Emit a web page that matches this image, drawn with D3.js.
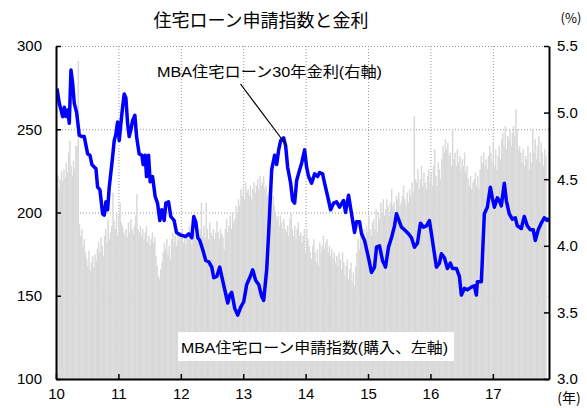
<!DOCTYPE html>
<html><head><meta charset="utf-8">
<script src="https://cdn.jsdelivr.net/npm/d3@7"></script>
<style>
html,body{margin:0;padding:0;background:#fff;}
svg{display:block;font-family:"Liberation Sans","Noto Sans CJK JP",sans-serif;}
</style></head>
<body>
<svg id="chart" width="587" height="408"></svg>
<script>
// ---- DATA ----
const title = "住宅ローン申請指数と金利";
const rateLabel = "MBA住宅ローン30年金利(右軸)";
const indexLabel = "MBA住宅ローン申請指数(購入、左軸)";
const yearTicks = [2010, 2011, 2012, 2013, 2014, 2015, 2016, 2017];
const leftTicks = [100, 150, 200, 250, 300];
const rightTicks = [3.0, 3.5, 4.0, 4.5, 5.0, 5.5];
const indexStart = 2010.0; // weekly series start
// MBA purchase index, weekly (left axis)
const index2010 = [216,222,214,220,225,219,226,221,230,224,236,243,228,222,231,226,240,240,291,193,186,190,180,184,176,172,168,177,165,170,174,167,175,171,178,182,176,185,180,174,186,190,182,196,184,188,192,212,195,190,200,186];
const index2011 = [198,206,194,192,188,186,190,185,194,188,196,190,187,192,198,211,190,188,192,186,190,184,188,192,182,186,180,184,188,182,185,174,168,162,160,166,170,176,182,178,184,175,180,172,184,188,182,186,180,187,183,188];
const index2012 = [184,190,182,186,181,188,184,192,186,181,195,188,184,190,182,186,190,206,186,192,185,206,190,184,194,188,186,190,184,188,195,188,184,190,187,185,178,190,196,188,192,198,190,200,194,196,204,200,208,204,214,210];
const index2013 = [216,208,218,212,214,210,216,208,214,218,212,216,220,214,222,216,218,222,214,216,210,212,206,208,202,210,204,200,196,198,192,198,194,190,196,190,188,192,186,196,200,190,186,192,184,190,194,186,188,182,186,190];
const index2014 = [176,190,184,180,176,172,180,184,176,170,178,168,182,176,180,186,178,182,184,176,180,174,178,172,176,170,174,168,176,172,166,176,170,162,168,172,160,166,170,158,164,156,168,176,184,178,186,182,188,190,184,192];
const index2015 = [188,198,190,186,194,196,190,202,188,200,196,206,200,208,198,202,208,204,198,206,214,204,206,200,210,208,212,204,206,210,216,208,204,212,206,214,210,218,212,258,220,218,226,214,220,228,216,224,218,214,222,226];
const index2016 = [218,224,216,228,238,222,216,230,226,220,232,240,236,244,238,242,234,236,228,250,232,236,228,238,230,234,226,232,228,236,224,228,220,216,222,214,218,220,224,216,222,214,226,234,230,236,228,232,226,234,240,236];
const index2017 = [230,242,228,238,226,234,240,232,244,248,240,252,238,246,244,250,240,248,252,246,262,250,238,240,236,230,238,228,234,232,240,226,236,230,250,236,244,232,240,246,230,242,236,228,238,234];
// MBA 30-year fixed rate (right axis): dates (decimal years) and values (%)
const rateDates = [2010.016,2010.053,2010.080,2010.107,2010.133,2010.160,2010.187,2010.213,2010.240,2010.267,2010.293,2010.331,2010.373,2010.416,2010.453,2010.507,2010.544,2010.576,2010.613,2010.640,2010.667,2010.704,2010.747,2010.773,2010.800,2010.827,2010.853,2010.896,2010.933,2010.960,2010.987,
2011.013,2011.040,2011.067,2011.093,2011.120,2011.147,2011.173,2011.200,2011.227,2011.264,2011.291,2011.333,2011.376,2011.397,2011.429,2011.451,2011.483,2011.509,2011.547,2011.589,2011.627,2011.664,2011.696,2011.733,2011.760,2011.803,2011.840,2011.893,2011.931,
2012.000,2012.080,2012.128,2012.176,2012.208,2012.240,2012.272,2012.304,2012.352,2012.400,2012.448,2012.496,2012.528,2012.576,2012.624,2012.656,2012.704,2012.752,2012.784,2012.816,2012.864,2012.912,2012.960,
2013.008,2013.056,2013.104,2013.152,2013.200,2013.248,2013.296,2013.328,2013.376,2013.408,2013.456,2013.504,2013.536,2013.568,2013.600,2013.648,2013.680,2013.712,2013.760,2013.792,2013.824,2013.856,2013.904,2013.936,2013.984,
2014.016,2014.048,2014.096,2014.144,2014.192,2014.224,2014.272,2014.304,2014.368,2014.400,2014.448,2014.496,2014.544,2014.608,2014.640,2014.688,2014.736,2014.784,2014.816,2014.864,2014.896,2014.944,
2015.008,2015.056,2015.104,2015.136,2015.184,2015.232,2015.280,2015.328,2015.376,2015.424,2015.456,2015.488,2015.536,2015.584,2015.648,2015.696,2015.744,2015.792,2015.840,2015.888,2015.936,2015.984,
2016.032,2016.096,2016.144,2016.176,2016.224,2016.272,2016.320,2016.352,2016.416,2016.464,2016.496,2016.544,2016.592,2016.656,2016.704,2016.736,2016.752,2016.816,2016.864,2016.912,2016.960,2016.992,
2017.024,2017.072,2017.104,2017.136,2017.184,2017.216,2017.264,2017.312,2017.360,2017.392,2017.456,2017.504,2017.552,2017.600,2017.648,2017.680,2017.728,2017.776,2017.824,2017.872,2017.890];
const rateValues = [5.18,5.07,5.02,4.97,5.04,4.97,5.02,4.92,5.32,5.22,5.07,5.00,4.83,4.82,4.82,4.69,4.68,4.61,4.59,4.58,4.44,4.42,4.24,4.23,4.33,4.27,4.44,4.62,4.79,4.84,4.93,
4.79,4.92,5.04,5.14,5.11,4.92,4.82,4.87,4.94,4.98,4.82,4.69,4.68,4.61,4.68,4.52,4.68,4.48,4.52,4.37,4.32,4.19,4.27,4.19,4.32,4.33,4.22,4.19,4.10,
4.08,4.07,4.09,4.06,4.22,4.18,4.06,4.04,3.97,3.89,3.88,3.84,3.76,3.77,3.84,3.77,3.67,3.57,3.63,3.65,3.53,3.48,3.54,
3.58,3.71,3.76,3.82,3.74,3.71,3.62,3.59,3.82,4.10,4.57,4.68,4.61,4.72,4.79,4.81,4.75,4.59,4.47,4.34,4.32,4.49,4.57,4.62,4.72,
4.59,4.52,4.47,4.54,4.52,4.55,4.54,4.47,4.34,4.27,4.32,4.33,4.29,4.34,4.25,4.38,4.24,4.10,4.18,4.18,4.09,4.04,
3.91,3.80,3.84,3.99,4.00,3.89,3.84,3.99,4.06,4.15,4.24,4.20,4.14,4.12,4.09,4.06,3.99,4.02,4.17,4.14,4.15,4.19,
4.04,3.84,3.87,3.94,3.91,3.83,3.87,3.83,3.83,3.77,3.63,3.68,3.67,3.69,3.70,3.63,3.73,3.73,4.24,4.29,4.44,4.36,
4.29,4.36,4.34,4.30,4.47,4.34,4.24,4.20,4.21,4.15,4.13,4.22,4.15,4.12,4.12,4.04,4.12,4.17,4.21,4.19,4.21];

// ---- BUILD ----
const indexValues = [].concat(index2010, index2011, index2012, index2013, index2014, index2015, index2016, index2017);
const weekYears = 7 / 365.25;
const indexData = indexValues.map((v, i) => ({t: indexStart + i * weekYears, v}));
const rateData = rateDates.map((t, i) => ({t, v: rateValues[i]}));

const L = 56, R = 549, T = 46, B = 379;
const svg = d3.select("#chart");
const x = d3.scaleLinear().domain([2010, 2017.9]).range([L, R]);
const yL = d3.scaleLinear().domain([100, 300]).range([B, T]);
const yR = d3.scaleLinear().domain([3.0, 5.5]).range([B, T]);

// gridlines (behind bars)
const grid = svg.append("g").attr("stroke", "#999").attr("stroke-width", 1).attr("stroke-dasharray", "1,2");
grid.selectAll("line.h").data(leftTicks.filter(d => d > 100)).join("line")
  .attr("x1", L).attr("x2", R).attr("y1", d => yL(d) + 0.5).attr("y2", d => yL(d) + 0.5);
grid.selectAll("line.v").data(yearTicks.slice(1)).join("line")
  .attr("x1", d => x(d) + 0.5).attr("x2", d => x(d) + 0.5).attr("y1", T).attr("y2", B);

// bars
const bw = x(2010 + weekYears) - x(2010);
svg.append("g").selectAll("rect").data(indexData).join("rect")
  .attr("x", d => x(d.t)).attr("width", bw + 0.3)
  .attr("y", d => yL(d.v)).attr("height", d => B - yL(d.v))
  .attr("fill", "#d9d9d9");

// clip
svg.append("clipPath").attr("id", "clip").append("rect")
  .attr("x", L).attr("y", T).attr("width", R - L).attr("height", B - T);

// rate line
svg.append("path").datum(rateData)
  .attr("clip-path", "url(#clip)")
  .attr("fill", "none").attr("stroke", "#0000ff").attr("stroke-width", 3.5)
  .attr("stroke-linejoin", "round")
  .attr("d", d3.line().x(d => x(d.t)).y(d => yR(d.v)));

// axes
const axisFont = g => g.selectAll("text").attr("font-size", 15).attr("fill", "#000")
  .attr("font-family", "'Liberation Sans', Arial, sans-serif");
const gl = svg.append("g").attr("transform", `translate(${L},0)`)
  .call(d3.axisLeft(yL).tickValues(leftTicks).tickSize(-5).tickSizeOuter(0).tickPadding(14));
const gr = svg.append("g").attr("transform", `translate(${R},0)`)
  .call(d3.axisRight(yR).tickValues(rightTicks).tickSize(-5).tickSizeOuter(0).tickPadding(8).tickFormat(d3.format(".1f")));
const gb = svg.append("g").attr("transform", `translate(0,${B})`)
  .call(d3.axisBottom(x).tickValues(yearTicks).tickSize(-5).tickSizeOuter(0).tickPadding(9).tickFormat(d => String(d % 100)));
[gl, gr, gb].forEach(g => {
  axisFont(g);
  g.select(".domain").attr("stroke", "#000").attr("stroke-width", 2);
  g.selectAll(".tick line").attr("stroke", "#000").attr("stroke-width", 1.5);
});

// title & unit labels
svg.append("text").attr("x", 261).attr("y", 27).attr("text-anchor", "middle")
  .attr("font-family", "'Noto Sans CJK JP', sans-serif").attr("font-size", 18).text(title);
svg.append("text").attr("x", 571).attr("y", 23).attr("text-anchor", "middle")
  .attr("font-family", "'Noto Sans CJK JP', sans-serif").attr("font-size", 13).text("(%)");
svg.append("text").attr("x", 569).attr("y", 403).attr("text-anchor", "middle")
  .attr("font-family", "'Noto Sans CJK JP', sans-serif").attr("font-size", 14).text("(年)");

// rate annotation
svg.append("line").attr("x1", 240.5).attr("y1", 84).attr("x2", 287).attr("y2", 146)
  .attr("stroke", "#000").attr("stroke-width", 1.2);
svg.append("text").attr("x", 157).attr("y", 77)
  .attr("font-size", 15).attr("textLength", 225).attr("lengthAdjust", "spacingAndGlyphs")
  .text(rateLabel);

// index annotation box
svg.append("rect").attr("x", 178).attr("y", 332).attr("width", 276).attr("height", 29).attr("fill", "#fff");
svg.append("text").attr("x", 181).attr("y", 353)
  .attr("font-size", 15).attr("textLength", 267).attr("lengthAdjust", "spacingAndGlyphs")
  .text(indexLabel);
</script>
</body></html>
